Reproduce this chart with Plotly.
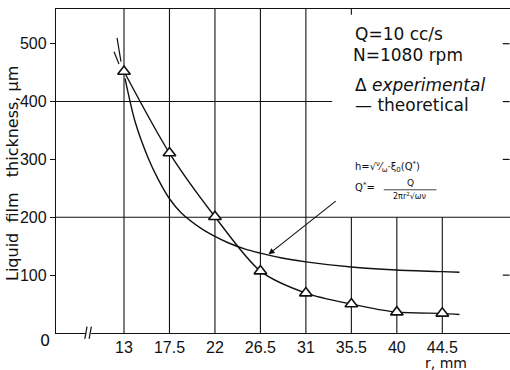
import plotly.graph_objects as go

# ---- data ----
r_ticks = [13, 17.5, 22, 26.5, 31, 35.5, 40, 44.5]
r_tick_labels = ["13", "17.5", "22", "26.5", "31", "35.5", "40", "44.5"]
h_ticks = [100, 200, 300, 400, 500]

exp_r = [13, 17.5, 22, 26.5, 31, 35.5, 40, 44.5]
exp_h = [452, 311, 201, 107, 69, 50, 36, 34]
exp_curve_r = [13, 17.5, 22, 26.5, 31, 35.5, 40, 44.5, 46.2]
exp_curve_h = [452, 311, 201, 107, 69, 50, 36, 34, 32]

theo_r = [13.1, 14.1, 15.4, 16.4, 17.5, 18.7, 20.7, 22, 23.3, 25, 26.5, 28.5, 31, 35.5, 40, 44.5, 46.2]
theo_h = [440, 365, 302, 265, 232, 207, 180, 167, 156, 145, 138, 130, 123, 114, 109, 106, 105]

XMIN, XMAX = 6.27, 51.2
YMIN, YMAX = 0, 560

FONT = "Liberation Sans Narrow, Liberation Sans, Arial, sans-serif"
TFONT = "DejaVu Sans, sans-serif"
LC = "#111"

fig = go.Figure()
fig.add_trace(go.Scatter(x=theo_r, y=theo_h, mode="lines", line=dict(color=LC, width=1.4, shape="spline", smoothing=0.8),
                         hoverinfo="skip", showlegend=False))
fig.add_trace(go.Scatter(x=exp_curve_r, y=exp_curve_h, mode="lines", line=dict(color=LC, width=1.4, shape="spline", smoothing=0.8),
                         hoverinfo="skip", showlegend=False))
fig.add_trace(go.Scatter(x=exp_r, y=exp_h, mode="markers",
                         marker=dict(symbol="triangle-up", size=11, color="white", line=dict(color=LC, width=1.6)),
                         showlegend=False))

shapes = []
# vertical grid lines
for xv in r_ticks:
    ytop = YMAX if xv <= 31 else 200
    shapes.append(dict(type="line", xref="x", yref="y", x0=xv, x1=xv, y0=0, y1=ytop,
                       line=dict(color=LC, width=1.1), layer="below"))
# top stub at 35.5
shapes.append(dict(type="line", xref="x", yref="y", x0=35.5, x1=35.5, y0=YMAX - 10, y1=YMAX,
                   line=dict(color=LC, width=1.1), layer="below"))
# horizontal grid lines
shapes.append(dict(type="line", xref="paper", yref="y", x0=0, x1=1, y0=200, y1=200,
                   line=dict(color=LC, width=1.1), layer="below"))
shapes.append(dict(type="line", xref="x", yref="y", x0=XMIN, x1=33.6, y0=400, y1=400,
                   line=dict(color=LC, width=1.1), layer="below"))
# right-side ticks
for yv in [100, 300, 400, 500]:
    shapes.append(dict(type="line", xref="paper", yref="y", x0=0.984, x1=0.999, y0=yv, y1=yv,
                       line=dict(color=LC, width=1.2)))
# strokes above first point (curves continuing upward)
shapes.append(dict(type="line", xref="x", yref="y", x0=12.31, x1=12.70, y0=510, y1=469,
                   line=dict(color=LC, width=1.2)))
shapes.append(dict(type="line", xref="x", yref="y", x0=12.01, x1=12.50, y0=486, y1=465,
                   line=dict(color=LC, width=1.2)))
# axis break on x axis
shapes.append(dict(type="rect", xref="x", yref="paper", x0=9.25, x1=9.75, y0=-0.01, y1=0.01,
                   fillcolor="white", line=dict(width=0)))
shapes.append(dict(type="line", xref="x", yref="paper", x0=9.12, x1=9.34, y0=-0.018, y1=0.02,
                   line=dict(color=LC, width=1.2)))
shapes.append(dict(type="line", xref="x", yref="paper", x0=9.55, x1=9.77, y0=-0.018, y1=0.02,
                   line=dict(color=LC, width=1.2)))
# fraction bar in formula
shapes.append(dict(type="line", xref="paper", yref="paper", x0=0.722, x1=0.838, y0=0.442, y1=0.442,
                   line=dict(color=LC, width=0.8)))

ann = []
def txt(x, y, s, size, font=TFONT, xanchor="left", **kw):
    ann.append(dict(xref="paper", yref="paper", x=x, y=y, text=s, showarrow=False, xanchor=xanchor,
                    yanchor="middle", font=dict(family=font, size=size, color=LC), **kw))

txt(0.655, 0.923, "Q=10 cc/s", 17)
txt(0.650, 0.858, "N=1080 rpm", 17)
txt(0.655, 0.765, "Δ <i>experimental</i>", 17)
txt(0.655, 0.704, "— theoretical", 17)
txt(0.655, 0.512, "h=√<sup>ν</sup>⁄<sub>ω</sub>·ξ<sub>0</sub>(Q<sup>*</sup>)", 10)
txt(0.655, 0.452, "Q<sup>*</sup>=", 10)
txt(0.78, 0.463, "Q", 9, xanchor="center")
txt(0.78, 0.422, "2πr<sup>2</sup>√ων", 8, xanchor="center")
# r,mm label
ann.append(dict(xref="paper", yref="paper", x=(446 - 56) / 454, y=-30 / 324, text="r, mm", showarrow=False,
                xanchor="center", yanchor="middle", font=dict(family=TFONT, size=14, color=LC)))
# origin 0
ann.append(dict(xref="paper", yref="paper", x=-11 / 454, y=-7 / 324, text="0", showarrow=False,
                xanchor="center", yanchor="middle", font=dict(family=TFONT, size=16, color=LC)))
# y-axis title
ann.append(dict(xref="paper", yref="paper", x=-44 / 454, y=(333 - 174) / 324,
                text="Liquid\u00a0\u00a0film\u00a0\u00a0\u00a0thickness,\u00a0μm", showarrow=False, textangle=-90,
                xanchor="center", yanchor="middle", font=dict(family=TFONT, size=16, color=LC)))
# arrow pointing to theoretical curve
ann.append(dict(xref="x", yref="y", axref="x", ayref="y", x=27.3, y=136, ax=34.1, ay=230, text="",
                showarrow=True, arrowhead=2, arrowsize=1.1, arrowwidth=1.1, arrowcolor=LC))

fig.update_layout(
    width=510, height=370, margin=dict(l=56, r=0, t=9, b=37),
    paper_bgcolor="white", plot_bgcolor="white",
    shapes=shapes, annotations=ann,
    xaxis=dict(range=[XMIN, XMAX], tickvals=r_ticks, ticktext=r_tick_labels, showgrid=False, zeroline=False,
               showline=True, linecolor=LC, linewidth=1.4, mirror=True, ticks="",
               tickfont=dict(family=FONT, size=16, color=LC)),
    yaxis=dict(range=[YMIN, YMAX], tickvals=h_ticks, showgrid=False, zeroline=False,
               showline=True, linecolor=LC, linewidth=1.4, ticks="outside", ticklen=5, tickcolor=LC,
               tickfont=dict(family=FONT, size=16, color=LC)),
)

fig.write_html("out.html")
